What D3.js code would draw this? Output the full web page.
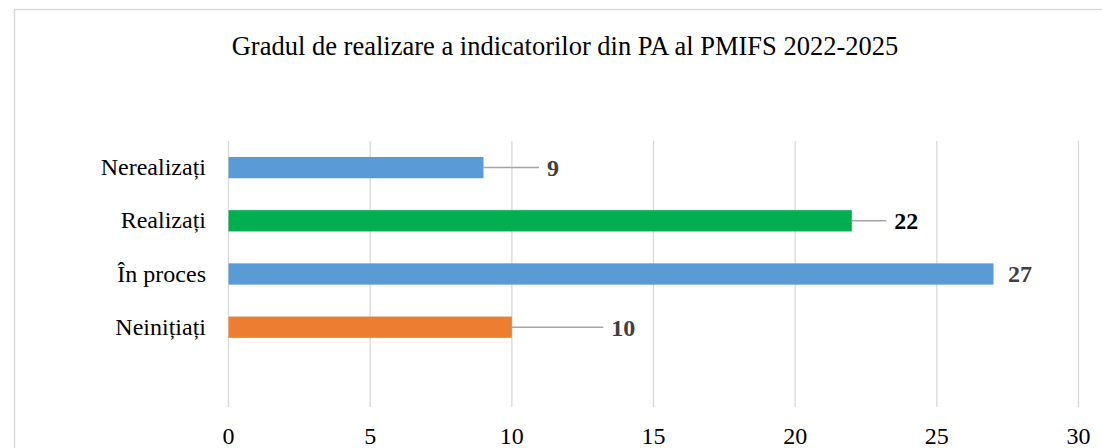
<!DOCTYPE html>
<html>
<head>
<meta charset="utf-8">
<script src="https://d3js.org/d3.v7.min.js"></script>
<style>
  html, body { margin: 0; padding: 0; background: #fff; overflow: hidden; }
  text { font-family: "Liberation Serif", "Times New Roman", serif; }
</style>
</head>
<body>
<div id="chart"></div>
<script>
    const title = "Gradul de realizare a indicatorilor din PA al PMIFS 2022-2025";
    const categories = ["Nerealizați", "Realizați", "În proces", "Neinițiați"];
    const values = [9, 22, 27, 10];
    const barColors = ["#5B9BD5", "#00B050", "#5B9BD5", "#ED7D31"];
    const labelColors = ["#404040", "#000000", "#404040", "#404040"];
    // distance (px) the data callouts were pushed right of the bar end
    const labelShift = [64, 43, 15, 100];
    const ticks = [0, 5, 10, 15, 20, 25, 30];

    (function() {
        const W = 1102, H = 448;
        const svg = d3.select("#chart").append("svg")
            .attr("width", W).attr("height", H);

        // chart area border
        svg.append("rect")
            .attr("x", 14.5).attr("y", 9.5)
            .attr("width", 1200).attr("height", 600)
            .attr("fill", "none")
            .attr("stroke", "#D9D9D9")
            .attr("stroke-width", 1.5);

        svg.append("text")
            .attr("x", 565).attr("y", 55)
            .attr("text-anchor", "middle")
            .attr("font-size", 26.5)
            .attr("fill", "#000")
            .text(title);

        const left = 228, right = 1078, top = 141, bottom = 407;

        const x = d3.scaleLinear().domain([0, 30]).range([left, right]);
        // one empty slot below the last category, as in the original
        const y = d3.scaleBand()
            .domain(categories.concat([" "]))
            .range([top, bottom])
            .paddingInner(0.6)
            .paddingOuter(0.3);

        const g = svg.append("g");

        // vertical gridlines
        g.selectAll(".grid")
            .data(ticks)
            .enter()
            .append("line")
            .attr("class", "grid")
            .attr("x1", d => x(d) + 0.5).attr("x2", d => x(d) + 0.5)
            .attr("y1", top).attr("y2", bottom)
            .attr("stroke", "#D9D9D9")
            .attr("stroke-width", 1.3);

        // x tick labels
        const xAxis = d3.axisBottom(x).tickValues(ticks).tickSize(0).tickPadding(0);
        const ax = svg.append("g")
            .attr("transform", "translate(0," + 444 + ")")
            .call(xAxis);
        ax.select(".domain").remove();
        ax.selectAll("text")
            .attr("font-family", "Liberation Serif, Times New Roman, serif")
            .attr("font-size", 24)
            .attr("fill", "#000")
            .attr("y", 0)
            .attr("dy", 0);

        // category labels
        const yAxis = d3.axisLeft(y).tickValues(categories).tickSize(0).tickPadding(22);
        const ay = svg.append("g")
            .attr("transform", "translate(" + left + ",0)")
            .call(yAxis);
        ay.select(".domain").remove();
        ay.selectAll("text")
            .attr("font-family", "Liberation Serif, Times New Roman, serif")
            .attr("font-size", 24)
            .attr("fill", "#000");

        const rows = categories.map((c, i) => ({
            cat: c, v: values[i], color: barColors[i],
            lc: labelColors[i], shift: labelShift[i]
        }));

        // bars
        g.selectAll(".bar")
            .data(rows)
            .enter()
            .append("rect")
            .attr("class", "bar")
            .attr("x", x(0) + 0.5)
            .attr("y", d => y(d.cat))
            .attr("width", d => x(d.v) - x(0))
            .attr("height", y.bandwidth())
            .attr("fill", d => d.color);

        // leader lines
        g.selectAll(".leader")
            .data(rows.filter(d => d.shift > 25))
            .enter()
            .append("line")
            .attr("class", "leader")
            .attr("x1", d => x(d.v) + 0.5)
            .attr("x2", d => x(d.v) + d.shift - 8)
            .attr("y1", d => y(d.cat) + y.bandwidth() / 2)
            .attr("y2", d => y(d.cat) + y.bandwidth() / 2)
            .attr("stroke", "#A6A6A6")
            .attr("stroke-width", 1.5);

        // data labels
        g.selectAll(".lbl")
            .data(rows)
            .enter()
            .append("text")
            .attr("class", "lbl")
            .attr("x", d => x(d.v) + d.shift)
            .attr("y", d => y(d.cat) + y.bandwidth() / 2)
            .attr("dy", "0.35em")
            .attr("font-size", 24)
            .attr("font-weight", "bold")
            .attr("fill", d => d.lc)
            .text(d => d.v);
    })();
</script>
</body>
</html>
